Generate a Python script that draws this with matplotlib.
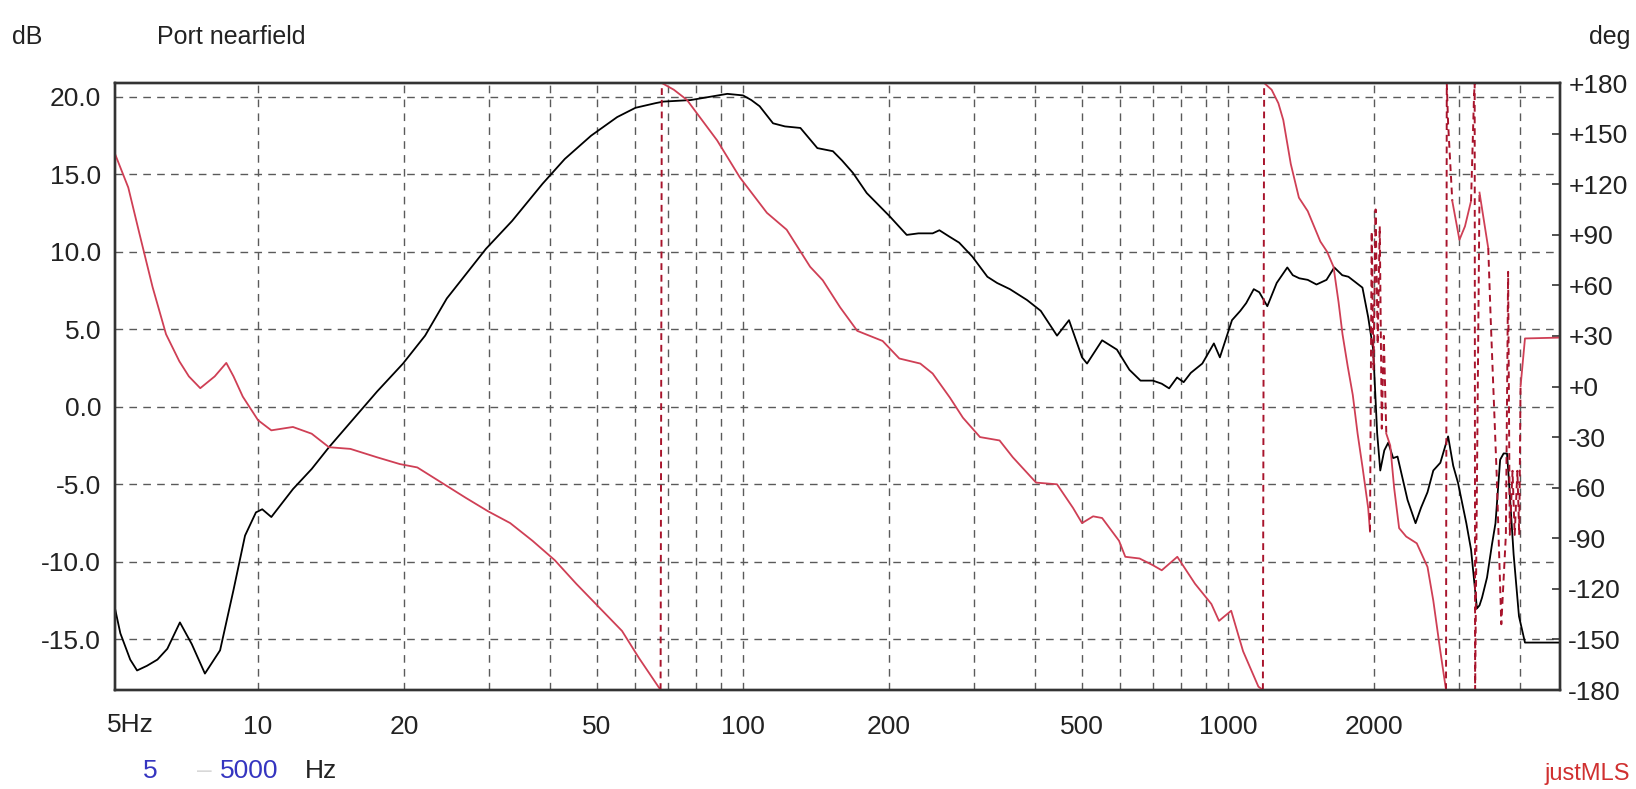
import numpy as np
import matplotlib
matplotlib.use('Agg')
import matplotlib.pyplot as plt

plt.rcParams['font.family'] = ['Liberation Sans', 'DejaVu Sans']

# magnitude (dB)
mag_freq = [5.07, 5.2, 5.45, 5.63, 5.9, 6.2, 6.5, 6.9, 7.3, 7.77, 8.35, 8.9, 9.4, 9.9,
            10.2, 10.65, 11.8, 12.9, 14.0, 15.9, 17.6, 19.9, 22.1, 24.5, 27.2, 29.5,
            33.4, 38.6, 42.9, 48.6, 55.0, 60.0, 66.0, 68.5, 78.0, 85.0, 92.8, 100.0,
            104.0, 108.2, 115.3, 122.0, 131.3, 142.3, 153.2, 160.0, 168.5, 179.9, 200.6,
            217.5, 230.0, 246.0, 254.0, 266.0, 279.0, 297.0, 319.0, 334.0, 355.0, 385.0,
            411.0, 444.0, 470.0, 500.0, 512.0, 550.0, 590.0, 626.0, 660.0, 700.0, 730.0,
            756.0, 785.0, 810.0, 838.0, 885.0, 935.0, 962.0, 1019.0, 1060.0, 1090.0,
            1130.0, 1160.0, 1205.0, 1260.0, 1325.0, 1360.0, 1403.0, 1460.0, 1522.0,
            1596.0, 1656.0, 1720.0, 1771.0, 1840.0, 1893.0, 1945.0, 1992.0, 2030.0,
            2060.0, 2100.0, 2140.0, 2190.0, 2236.0, 2345.0, 2436.0, 2500.0, 2578.0,
            2650.0, 2740.0, 2843.0, 2913.0, 2980.0, 3100.0, 3170.0, 3260.0, 3300.0,
            3340.0, 3420.0, 3500.0, 3560.0, 3640.0, 3700.0, 3760.0, 3790.0, 3880.0,
            3980.0, 4095.0, 4836.0]
mag_db = [-13.0, -14.6, -16.3, -17.0, -16.7, -16.3, -15.6, -13.9, -15.3, -17.2, -15.7,
          -11.8, -8.3, -6.8, -6.6, -7.1, -5.3, -4.0, -2.6, -0.6, 1.0, 2.8, 4.6, 7.0, 8.8,
          10.2, 12.0, 14.4, 16.0, 17.5, 18.7, 19.3, 19.6, 19.7, 19.8, 20.0, 20.2, 20.1,
          19.8, 19.4, 18.3, 18.1, 18.0, 16.7, 16.5, 15.9, 15.1, 13.8, 12.3, 11.1, 11.2,
          11.2, 11.4, 11.0, 10.6, 9.7, 8.4, 8.0, 7.6, 6.9, 6.2, 4.6, 5.6, 3.2, 2.8, 4.3,
          3.7, 2.4, 1.7, 1.7, 1.5, 1.2, 1.9, 1.6, 2.2, 2.8, 4.1, 3.2, 5.6, 6.2, 6.7, 7.6,
          7.4, 6.5, 8.0, 9.0, 8.5, 8.3, 8.2, 7.9, 8.2, 9.0, 8.5, 8.4, 8.0, 7.7, 5.8, 3.7,
          -1.7, -4.1, -2.8, -2.3, -3.3, -3.2, -6.0, -7.5, -6.5, -5.5, -4.1, -3.6, -1.9,
          -3.8, -4.9, -7.5, -9.2, -13.0, -12.8, -12.3, -11.0, -8.9, -7.5, -3.4, -3.0,
          -3.0, -4.5, -9.5, -13.5, -15.2, -15.2]

# phase (deg), wrapped to +-180
phase_freq = [5.07, 5.15, 5.4, 5.69, 6.06, 6.46, 6.88, 7.2, 7.6, 8.14, 8.6, 8.9, 9.3,
              10.0, 10.65, 11.8, 12.9, 14.0, 15.5, 17.6, 19.6, 21.3, 24.2, 26.8, 29.8,
              33.1, 36.8, 40.9, 45.3, 50.5, 56.3, 61.0, 67.6, 68.0, 72.0, 76.6, 88.4,
              98.5, 112.0, 123.0, 137.5, 146.0, 158.5, 172.0, 194.0, 210.0, 232.0, 246.0,
              267.0, 284.0, 308.0, 338.0, 360.0, 402.0, 444.0, 479.0, 500.0, 527.0,
              550.0, 596.0, 614.0, 657.0, 700.0, 730.0, 786.0, 855.0, 924.0, 958.0,
              1015.0, 1074.0, 1155.0, 1180.0, 1187.0, 1230.0, 1270.0, 1300.0, 1347.0,
              1400.0, 1460.0, 1550.0, 1600.0, 1650.0, 1690.0, 1722.0, 1765.0, 1808.0,
              1850.0, 1894.0, 1945.0, 1962.0, 1978.0, 1995.0, 2015.0, 2035.0, 2055.0,
              2075.0, 2095.0, 2120.0, 2160.0, 2200.0, 2253.0, 2330.0, 2450.0, 2578.0,
              2650.0, 2740.0, 2815.0, 2825.0, 2843.0, 2900.0, 3000.0, 3080.0, 3170.0,
              3215.0, 3225.0, 3232.0, 3300.0, 3440.0, 3480.0, 3580.0, 3660.0, 3740.0,
              3780.0, 3810.0, 3860.0, 3900.0, 3950.0, 3985.0, 4010.0, 4095.0, 4836.0]
phase_deg = [138, 133, 118, 91, 59, 31, 15, 6, -1, 6, 14, 6, -6,
             -20, -26, -24, -28, -36, -37, -42, -46, -48, -58, -66, -74,
             -81, -91.5, -103, -117, -131, -145, -161, -180, 180, 176, 170, 146,
             124, 103, 93, 71, 63, 47, 33, 27, 16.6, 13.6, 7.7,
             -6.6, -18.5, -30, -32, -42, -57, -58, -72, -81, -77,
             -78, -91.5, -101, -102, -106, -109, -101, -117, -129, -139,
             -133, -157, -178, -180, 180, 176, 168, 158, 132,
             112, 104, 86, 80, 71, 50, 31, 12, -5,
             -28, -48, -72, -86, 92, 10, 105, 25, 95,
             -25, 30, -28, -35, -60, -84, -89, -93, -107,
             -127, -157, -180, 180, 156, 110, 87, 95, 110,
             172, 180, -180, 115, 82, 40, -52, -141, -88,
             68, -88, -50, -88, -50, -88, 0, 28.5, 29]

db_ticks = [20, 15, 10, 5, 0, -5, -10, -15]
deg_ticks = [180, 150, 120, 90, 60, 30, 0, -30, -60, -90, -120, -150, -180]
x_ticks = [10, 20, 50, 100, 200, 500, 1000, 2000]
x_grid = [10, 20, 30, 40, 50, 60, 70, 80, 90, 100, 200, 300, 400, 500, 600, 700,
          800, 900, 1000, 2000, 3000, 4000]

W, H = 1636, 789
fig = plt.figure(figsize=(W / 100, H / 100), dpi=100)
fig.patch.set_facecolor('white')
ax = fig.add_axes([115 / W, 1 - 690 / H, (1560 - 115) / W, (690 - 83) / H])
ax.set_xscale('log')
ax.set_xlim(5.07, 4836)
ax.set_ylim(-18.26, 20.9)

grid_kw = dict(color='#5a5a5a', lw=1.0, dashes=(5.5, 4.5), zorder=1)
for v in db_ticks:
    ax.axhline(v, **grid_kw)
for f in x_grid:
    ax.axvline(f, **grid_kw)

ax.plot(mag_freq, mag_db, color='black', lw=1.3, zorder=3)

ax.set_yticks(db_ticks)
ax.set_yticklabels(['%.1f' % v for v in db_ticks])
ax.set_xticks(x_ticks)
ax.set_xticklabels([str(v) for v in x_ticks])
ax.xaxis.set_minor_locator(matplotlib.ticker.NullLocator())
ax.tick_params(axis='y', length=0, pad=10, labelsize=19, labelcolor='#222222')
ax.tick_params(axis='x', length=0, pad=18, labelsize=19, labelcolor='#222222')
for sp in ax.spines.values():
    sp.set_color('#333333')
    sp.set_linewidth(1.7)

# phase on the right axis, near-vertical jumps drawn dashed
ax2 = ax.twinx()
ax2.set_ylim(-180, 180)
pf = np.array(phase_freq)
pdg = np.array(phase_deg, dtype=float)
slope = np.abs(np.diff(pdg)) / np.diff(np.log10(pf))
steep = slope > 4000
start = 0
for i in range(1, len(steep) + 1):
    if i == len(steep) or steep[i] != steep[start]:
        seg = slice(start, i + 1)
        if steep[start]:
            ax2.plot(pf[seg], pdg[seg], color='#a8142c', lw=1.4, dashes=(3.5, 2.5))
        else:
            ax2.plot(pf[seg], pdg[seg], color='#cf3f55', lw=1.3)
        start = i

ax2.set_yticks(deg_ticks)
ax2.set_yticklabels(['+%d' % v if v >= 0 else '%d' % v for v in deg_ticks])
ax2.tick_params(axis='y', direction='in', length=6, width=1.2, color='#333333',
                pad=6, labelsize=19, labelcolor='#222222')
for sp in ax2.spines.values():
    sp.set_color('#333333')
    sp.set_linewidth(1.7)

def px(x, y):
    return x / W, 1 - y / H

fig.text(*px(12, 37), 'dB', fontsize=18, va='center', color='#222222')
fig.text(*px(157, 37), 'Port nearfield', fontsize=18, va='center', color='#222222')
fig.text(*px(1630, 37), 'deg', fontsize=18, va='center', ha='right', color='#222222')
fig.text(*px(107, 725), '5Hz', fontsize=19, va='center', color='#222222')
fig.text(*px(150, 771), '5', fontsize=19, va='center', ha='center', color='#3535c0')
fig.text(*px(204, 771), '\u2013', fontsize=19, va='center', ha='center', color='#d8d8d8')
fig.text(*px(220, 771), '5000', fontsize=19, va='center', color='#3535c0')
fig.text(*px(305, 771), 'Hz', fontsize=19, va='center', color='#222222')
fig.text(*px(1545, 774), 'justMLS', fontsize=17, va='center', color='#d03030')

fig.savefig('out.png', dpi=100)
